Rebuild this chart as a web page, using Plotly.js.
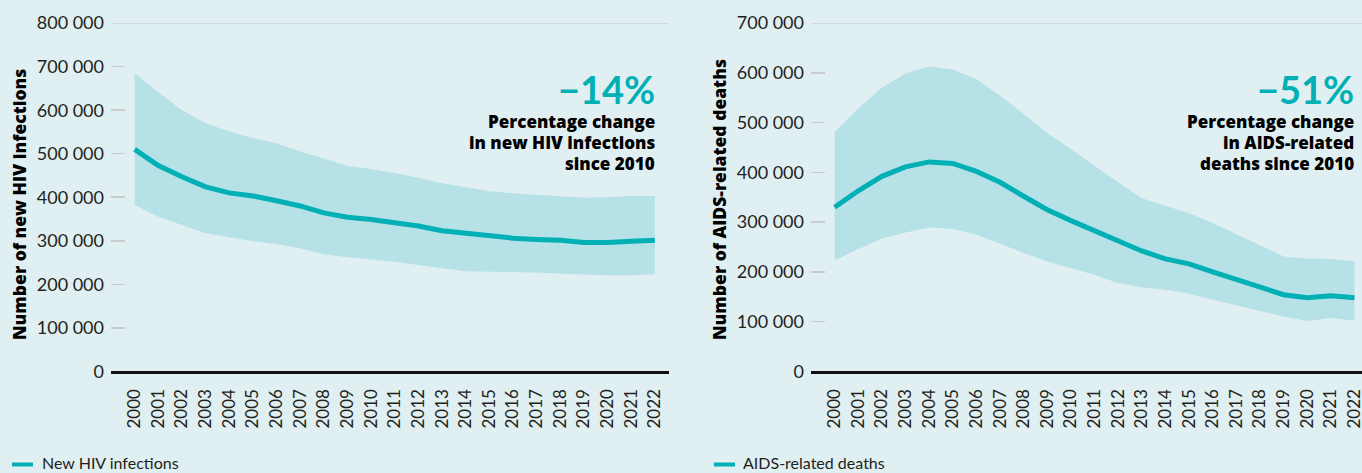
<!DOCTYPE html>
<html>
<head>
<meta charset="utf-8">
<script src="https://cdn.plot.ly/plotly-3.0.1.min.js"></script>
<style>
html,body{margin:0;padding:0;overflow:hidden;background:#e0eff1;}
#chart{width:1362px;height:473px;}
</style>
</head>
<body>
<div id="chart"></div>
<script>
// ---- data ----
const years = [2000,2001,2002,2003,2004,2005,2006,2007,2008,2009,2010,2011,2012,2013,2014,2015,2016,2017,2018,2019,2020,2021,2022];
const yearLabels = years.map(String);

const newInfections     = [510000,473000,447000,424000,410000,403000,392000,380000,364000,354000,349000,341000,334000,323000,317000,310000,306000,303000,301000,296000,296000,299000,301000];
const newInfectionsLow  = [382000,355000,336000,317000,308000,299000,292000,283000,269000,262000,257000,252000,245000,237000,230000,230000,228000,227000,224000,222000,221000,221000,223000];
const newInfectionsHigh = [686000,641000,600000,570000,551000,536000,524000,505000,489000,472000,465000,456000,445000,432000,423000,414000,409000,405000,402000,399000,400000,403000,403000];

const aidsDeaths     = [330000,363000,392000,411000,421000,418000,402000,380000,352000,325000,303000,282000,261000,242000,226000,216000,200000,184000,168000,154000,148000,152000,148000];
const aidsDeathsLow  = [223000,246000,267000,279000,289000,286000,275000,256000,238000,221000,207000,194000,177000,169000,164000,156000,144000,133000,122000,110000,101000,107000,102000];
const aidsDeathsHigh = [480000,529000,570000,599000,613000,607000,588000,554000,518000,479000,447000,413000,380000,348000,333000,318000,298000,276000,253000,231000,227000,226000,222000];

const leftTickVals  = [0,100000,200000,300000,400000,500000,600000,700000,800000];
const leftTickText  = ['0','100 000','200 000','300 000','400 000','500 000','600 000','700 000','800 000'];
const rightTickVals = [0,100000,200000,300000,400000,500000,600000,700000];
const rightTickText = ['0','100 000','200 000','300 000','400 000','500 000','600 000','700 000'];

const leftTitle  = 'Number of new HIV infections';
const rightTitle = 'Number of AIDS-related deaths';
const leftLegend  = 'New HIV infections';
const rightLegend = 'AIDS-related deaths';
const leftPct  = '\u221214%';
const rightPct = '\u221251%';
const leftNoteLines  = ['Percentage change', 'in new HIV infections', 'since 2010'];
const rightNoteLines = ['Percentage change', 'in AIDS-related', 'deaths since 2010'];

// ---- style ----
const BG = '#e0eff1';
const BAND = '#b6e1e6';
const LINE = '#00b0b5';
const TXT = '#231f20';
const FONT = 'Lato, "Open Sans", sans-serif';
const BOLDFONT = '"Open Sans", Lato, sans-serif';
const W = 1362, H = 473;
const px = v => v / W;
const py = v => 1 - v / H;

function band(x, lo, hi, xa, ya) {
  return {
    x: x.concat(x.slice().reverse()),
    y: hi.concat(lo.slice().reverse()),
    type: 'scatter', mode: 'lines', fill: 'toself',
    fillcolor: BAND, line: {width: 0, color: BAND},
    xaxis: xa, yaxis: ya, hoverinfo: 'skip', showlegend: false
  };
}
function line(x, y, xa, ya, name) {
  return {
    x: x, y: y, type: 'scatter', mode: 'lines', name: name,
    line: {color: LINE, width: 5},
    xaxis: xa, yaxis: ya, showlegend: false
  };
}

const traces = [
  band(years, newInfectionsLow, newInfectionsHigh, 'x', 'y'),
  line(years, newInfections, 'x', 'y', leftLegend),
  band(years, aidsDeathsLow, aidsDeathsHigh, 'x2', 'y2'),
  line(years, aidsDeaths, 'x2', 'y2', rightLegend)
];

const xCommon = {
  type: 'linear', tickmode: 'array', tickvals: years, ticktext: yearLabels,
  tickangle: -90, tickfont: {family: FONT, size: 17, color: TXT},
  showgrid: false, zeroline: false, showline: true, linecolor: '#111', linewidth: 3,
  ticks: '', ticklabelstandoff: 8, ticklabeloverflow: 'allow', automargin: false, fixedrange: true
};
const yCommon = {
  tickmode: 'array', ticks: 'inside', ticklen: 14, tickwidth: 1.5, tickcolor: '#c9cccd',
  tickfont: {family: FONT, size: 18, color: TXT},
  showgrid: false, zeroline: false, showline: false,
  ticklabelstandoff: 6, automargin: false, fixedrange: true
};

function noteAnns(lines, xRight) {
  const ys = [121, 142.5, 164];
  return lines.map((t, i) => ({
    xref: 'paper', yref: 'paper', x: px(xRight), y: py(ys[i]), text: t, showarrow: false, borderpad: 0,
    xanchor: 'right', yanchor: 'middle', font: {family: BOLDFONT, size: 17, color: '#000', weight: 800}
  }));
}

const layout = {
  width: W, height: H,
  margin: {l: 0, r: 0, t: 0, b: 0},
  paper_bgcolor: BG, plot_bgcolor: BG,
  showlegend: false,
  xaxis:  Object.assign({}, xCommon, {domain: [px(111), px(669)], range: [1999, 2022.6], anchor: 'y'}),
  yaxis:  Object.assign({}, yCommon, {domain: [0.215, 0.951], range: [0, 800000], tickvals: leftTickVals, ticktext: leftTickText, anchor: 'x'}),
  xaxis2: Object.assign({}, xCommon, {domain: [px(811), 1], range: [1999, 2022.32], anchor: 'y2'}),
  yaxis2: Object.assign({}, yCommon, {domain: [0.215, 0.951], range: [0, 700000], tickvals: rightTickVals, ticktext: rightTickText, anchor: 'x2'}),
  shapes: [
    {type: 'line', xref: 'x domain', yref: 'y', x0: 0, x1: 1, y0: 800000, y1: 800000, line: {color: '#cfd3d4', width: 1.5}, layer: 'below'},
    {type: 'line', xref: 'x2 domain', yref: 'y2', x0: 0, x1: 1, y0: 700000, y1: 700000, line: {color: '#cfd3d4', width: 1.5}, layer: 'below'},
    {type: 'line', xref: 'paper', yref: 'paper', x0: px(12), x1: px(33), y0: py(464.5), y1: py(464.5), line: {color: LINE, width: 4}},
    {type: 'line', xref: 'paper', yref: 'paper', x0: px(714), x1: px(735), y0: py(464.5), y1: py(464.5), line: {color: LINE, width: 4}}
  ],
  annotations: [
    {xref: 'paper', yref: 'paper', x: px(19), y: py(205), text: leftTitle, textangle: -90, showarrow: false,
     xanchor: 'center', yanchor: 'middle', font: {family: BOLDFONT, size: 17.5, color: '#000', weight: 800}},
    {xref: 'paper', yref: 'paper', x: px(719), y: py(200), text: rightTitle, textangle: -90, showarrow: false,
     xanchor: 'center', yanchor: 'middle', font: {family: BOLDFONT, size: 17.5, color: '#000', weight: 800}},
    {xref: 'paper', yref: 'paper', x: px(656), y: py(88.5), text: leftPct, showarrow: false, borderpad: 0,
     xanchor: 'right', yanchor: 'middle', font: {family: FONT, size: 38, color: LINE, weight: 'bold'}},
    {xref: 'paper', yref: 'paper', x: px(1355), y: py(88.5), text: rightPct, showarrow: false, borderpad: 0,
     xanchor: 'right', yanchor: 'middle', font: {family: FONT, size: 38, color: LINE, weight: 'bold'}},
    {xref: 'paper', yref: 'paper', x: px(40), y: py(462), text: leftLegend, showarrow: false,
     xanchor: 'left', yanchor: 'middle', font: {family: FONT, size: 16, color: TXT}},
    {xref: 'paper', yref: 'paper', x: px(741), y: py(462), text: rightLegend, showarrow: false,
     xanchor: 'left', yanchor: 'middle', font: {family: FONT, size: 16, color: TXT}}
  ].concat(noteAnns(leftNoteLines, 656), noteAnns(rightNoteLines, 1355))
};

Plotly.newPlot('chart', traces, layout, {displayModeBar: false, staticPlot: true});
</script>
</body>
</html>
